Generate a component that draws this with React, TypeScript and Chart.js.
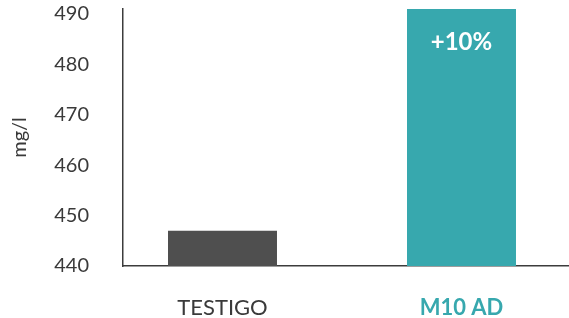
import React, { useEffect, useRef } from "react";
import { Chart, registerables } from "chart.js";

Chart.register(...registerables);

const categories = ["TESTIGO", "M10 AD"];
const values = [447, 491];
const barLabels = ["", "+10%"];
const barColors = ["#4f4f4f", "#37a8ae"];
const labelColors = ["#3a3a3a", "#37a8ae"];
const yTitle = "mg/l";

const FONT = "Lato, 'Noto Sans', sans-serif";

const barLabelPlugin = {
  id: "barLabel",
  afterDatasetsDraw(chart: any) {
    const ctx = chart.ctx;
    const meta = chart.getDatasetMeta(0);
    ctx.save();
    ctx.fillStyle = "#ffffff";
    ctx.font = `bold 24px ${FONT}`;
    ctx.textAlign = "center";
    ctx.textBaseline = "middle";
    meta.data.forEach((bar: any, i: number) => {
      if (barLabels[i]) ctx.fillText(barLabels[i], bar.x, bar.y + 33);
    });
    ctx.restore();
  },
};

export default function App() {
  const ref = useRef<HTMLCanvasElement>(null);
  useEffect(() => {
    if (!ref.current) return;
    const chart = new Chart(ref.current, {
      type: "bar",
      data: {
        datasets: [
          {
            data: values.map((v, i) => ({ x: i, y: v })),
            backgroundColor: barColors,
            borderWidth: 0,
            barPercentage: 0.456,
            categoryPercentage: 1,
          },
        ],
      },
      plugins: [barLabelPlugin],
      options: {
        animation: false,
        responsive: false,
        layout: { padding: { top: 9, right: 0, left: 0, bottom: 0 } },
        plugins: { legend: { display: false }, tooltip: { enabled: false } },
        scales: {
          x: {
            type: "linear",
            offset: false,
            min: -0.4163,
            max: 1.4498,
            grid: { display: false, drawTicks: false },
            border: { display: true, color: "#3c3c3c", width: 1.5 },
            afterBuildTicks: (scale: any) => {
              scale.ticks = categories.map((_, i) => ({ value: i }));
            },
            afterFit: (scale: any) => {
              scale.height = 52;
              scale.paddingLeft = 0;
              scale.paddingRight = 0;
            },
            ticks: {
              padding: 29,
              autoSkip: false,
              maxRotation: 0,
              callback: (_v: any, i: number) => categories[i],
              color: (c: any) => labelColors[c.index] || "#3a3a3a",
              font: (c: any) => ({
                family: FONT,
                size: 22,
                weight: c.index === 1 ? "bold" : "normal",
              }),
            },
          },
          y: {
            min: 440,
            max: 491,
            grid: { display: false, drawTicks: false },
            border: { display: true, color: "#3c3c3c", width: 1.5 },
            afterFit: (scale: any) => {
              scale.width = 123;
              scale.paddingTop = 0;
              scale.paddingBottom = 0;
            },
            ticks: {
              stepSize: 10,
              includeBounds: false,
              padding: 34,
              color: "#3a3a3a",
              font: { family: FONT, size: 20 },
            },
            title: {
              display: true,
              text: yTitle,
              color: "#3a3a3a",
              font: { family: FONT, size: 20 },
              padding: { top: 8, bottom: 0 },
            },
          },
        },
      },
    } as any);
    return () => chart.destroy();
  }, []);
  return (
    <div style={{ position: "absolute", left: 0, top: 0, width: 569, height: 318, background: "#fff" }}>
      <canvas ref={ref} width={569} height={318} />
    </div>
  );
}
